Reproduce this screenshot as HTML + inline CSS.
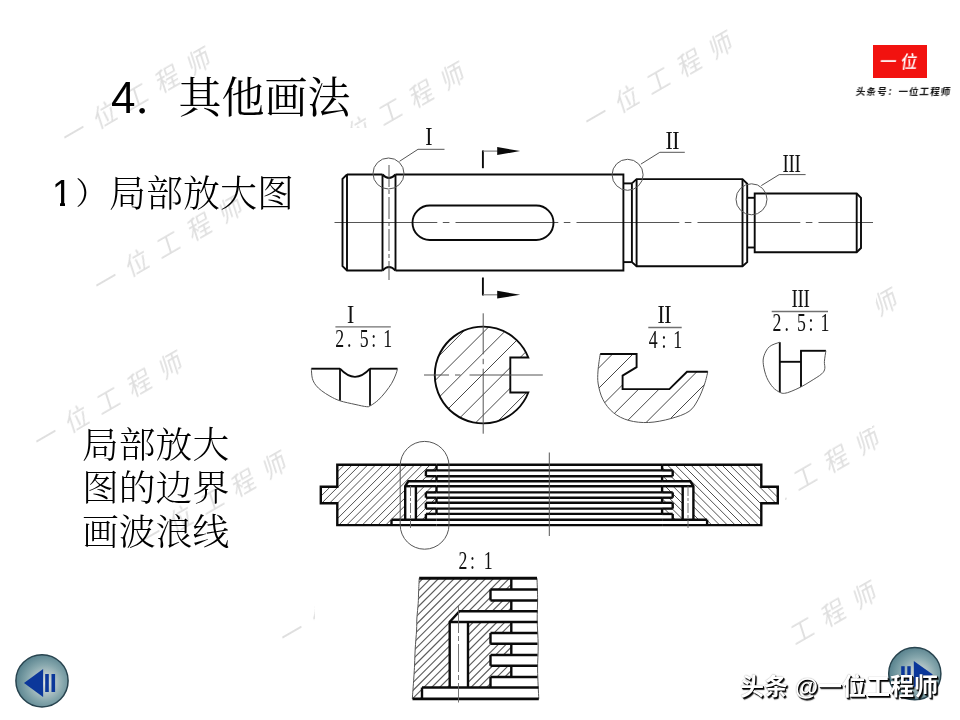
<!DOCTYPE html>
<html lang="zh-CN">
<head>
<meta charset="utf-8">
<title>4.其他画法 — 局部放大图</title>
<style>
html,body{margin:0;padding:0;background:#fff;}
body{width:960px;height:720px;position:relative;overflow:hidden;
  font-family:"Liberation Sans","Noto Serif CJK SC",serif;color:#000;}
.t{position:absolute;white-space:nowrap;line-height:1;will-change:transform;}
svg{will-change:transform;}
.cjk{font-family:"Liberation Sans","Noto Serif CJK SC",serif;font-weight:300;}
.cjk span{font-weight:400;}
.wm{position:absolute;white-space:nowrap;line-height:1;color:#dfdfdf;font-size:24px;letter-spacing:12px;
  font-family:"Liberation Sans","Noto Sans CJK SC",sans-serif;font-weight:400;transform-origin:0 100%;
  transform:rotate(-30deg) skewX(-12deg);will-change:transform;}
</style>
</head>
<body>
<div class="wm" style="left:68.3px;top:128.4px">一位工程师</div><div class="wm" style="left:100.3px;top:275.9px">一位工程师</div><div class="wm" style="left:39.5px;top:432.4px">一位工程师</div><div class="wm" style="left:143.6px;top:531.8px">一位工程师</div><div class="wm" style="left:286.1px;top:627.9px">一位工程师</div><div class="wm" style="left:321.8px;top:143.4px">一位工程师</div><div class="wm" style="left:590.3px;top:111.9px">一位工程师</div><div class="wm" style="left:755.4px;top:369.4px">一位工程师</div><div class="wm" style="left:736.8px;top:508.4px">一位工程师</div><div class="wm" style="left:733.8px;top:662.4px">一位工程师</div>
<div style="position:absolute;left:300px;top:128px;width:576px;height:174px;background:#fff"></div><div style="position:absolute;left:300px;top:300px;width:572px;height:128px;background:#fff"></div><div style="position:absolute;left:315px;top:438px;width:470px;height:278px;background:#fff"></div>
<div class="t cjk" id="title" style="left:111px;top:76.4px;font-size:43px;font-weight:400;"><span style="font-size:44px">4</span>．其他画法</div>
<div class="t cjk" id="sub" style="left:52px;top:175.6px;font-size:37px;"><span style="font-size:36px;position:relative;top:-1px">1</span><span style="display:inline-block;width:37px;font-size:31px;position:relative;left:3.5px;top:-3px">）</span>局部放大图</div>
<div style="position:absolute;left:53px;top:201.6px;width:7.4px;height:5px;background:#fff"></div><div style="position:absolute;left:65.3px;top:201.6px;width:7px;height:5px;background:#fff"></div>
<div class="t cjk" id="note" style="left:82px;top:424.2px;font-size:36.8px;line-height:43.3px;white-space:normal;width:160px;">局部放大<br>图的边界<br>画波浪线</div>
<svg width="960" height="720" viewBox="0 0 960 720" style="position:absolute;left:0;top:0">
<defs><clipPath id="c1"><path d="M528.3,357.5 A48.4,48.4 0 1 0 528.3,392.5 L510.3,392.5 L510.3,357.5 Z"/></clipPath><clipPath id="c2"><path d="M600.2,354.0 C599.8,356.8 598.3,366.0 598.0,371.0 C597.7,376.0 597.4,379.2 598.2,384.0 C599.0,388.8 600.5,394.9 603.0,399.7 C605.5,404.5 609.1,409.2 613.4,412.7 C617.7,416.2 623.1,418.9 629.0,420.5 C634.9,422.1 641.6,422.8 648.6,422.5 C655.6,422.2 664.0,420.5 670.7,418.6 C677.4,416.8 684.5,414.5 689.0,411.4 C693.5,408.2 695.4,404.3 698.0,399.7 C700.6,395.1 703.0,388.7 704.6,384.0 C706.2,379.3 707.3,373.8 707.8,371.7 L687,371.7 L669.4,389.1 L622.6,389.1 L622.6,375.6 L636.6,367.1 L636.6,354.0 L600.2,354.0 Z"/></clipPath><clipPath id="c3"><path d="M337.3,464.8 L436.5,464.8 L436.5,470.4 L425.9,470.4 L425.9,476.2 L436.5,476.2 L436.5,481.3 L408.3,481.3 L405.2,486.2 L405.2,519.7 L391.5,519.7 L391.5,525.1 L337.3,525.1 L337.3,503.2 L320.8,503.2 L320.8,486.7 L337.3,486.7 Z M415.9,486.2 L436.5,486.2 L436.5,492.4 L425.9,492.4 L425.9,497.7 L436.5,497.7 L436.5,502.8 L425.9,502.8 L425.9,508.6 L436.5,508.6 L436.5,513.9 L425.9,513.9 L425.9,519.7 L415.9,519.7 Z"/></clipPath><clipPath id="c4"><path d="M761.3,464.8 L662.1,464.8 L662.1,470.4 L672.7,470.4 L672.7,476.2 L662.1,476.2 L662.1,481.3 L690.3,481.3 L693.4,486.2 L693.4,519.7 L707.1,519.7 L707.1,525.1 L761.3,525.1 L761.3,503.2 L777.8,503.2 L777.8,486.7 L761.3,486.7 Z M682.7,486.2 L662.1,486.2 L662.1,492.4 L672.7,492.4 L672.7,497.7 L662.1,497.7 L662.1,502.8 L672.7,502.8 L672.7,508.6 L662.1,508.6 L662.1,513.9 L672.7,513.9 L672.7,519.7 L682.7,519.7 Z"/></clipPath><clipPath id="c5"><path d="M419.2,578.3 L511.3,578.3 L511.3,589.5 L490.5,589.5 L490.5,600.5 L511.3,600.5 L511.3,611.3 L459.5,611.3 L449.7,622.0 L449.7,687.5 L422.0,687.5 L422.0,698.8 L412.3,698.8 C412.6,695.3 413.4,683.8 413.8,678.0 C414.2,672.2 414.4,668.8 414.6,664.0 C414.8,659.2 414.9,654.7 415.2,649.0 C415.5,643.3 416.3,635.2 416.6,630.0 C416.9,624.8 416.6,622.5 416.9,618.0 C417.2,613.5 417.9,607.6 418.2,603.3 C418.5,599.0 418.4,596.2 418.6,592.0 C418.8,587.8 419.1,580.6 419.2,578.3 Z M468.0,622.0 L511.3,622.0 L511.3,633.0 L490.5,633.0 L490.5,643.8 L511.3,643.8 L511.3,655.0 L490.5,655.0 L490.5,665.8 L511.3,665.8 L511.3,677.0 L490.5,677.0 L490.5,687.5 L468.0,687.5 Z"/></clipPath><radialGradient id="btn" cx="56%" cy="54%" r="54%"><stop offset="0" stop-color="#dfe5e3"/><stop offset="0.3" stop-color="#bccacb"/><stop offset="0.65" stop-color="#86a7ad"/><stop offset="1" stop-color="#5d8691"/></radialGradient></defs>
<line x1="334.5" y1="222.5" x2="873.0" y2="222.5" stroke="#555" stroke-width="1.0" stroke-dasharray="102.8 5.5 6.6 6.1"/>
<path d="M347.0,174.5 L342.5,178.8 L342.5,266.2 L347.0,270.5 L382.5,270.5" fill="none" stroke="#0a0a0a" stroke-width="1.9" />
<path d="M347.0,174.5 L382.5,174.5" fill="none" stroke="#0a0a0a" stroke-width="1.9" />
<line x1="347.0" y1="174.5" x2="347.0" y2="270.5" stroke="#0a0a0a" stroke-width="1.9" />
<line x1="382.5" y1="174.5" x2="382.5" y2="270.5" stroke="#0a0a0a" stroke-width="1.9" />
<line x1="395.5" y1="174.5" x2="395.5" y2="270.5" stroke="#0a0a0a" stroke-width="1.9" />
<path d="M382.5,174.5 Q389,181.5 395.5,174.5" fill="none" stroke="#0a0a0a" stroke-width="1.9"/>
<path d="M382.5,270.5 Q389,263.5 395.5,270.5" fill="none" stroke="#0a0a0a" stroke-width="1.9"/>
<line x1="389.0" y1="165.0" x2="389.0" y2="280.0" stroke="#555" stroke-width="1.0" stroke-dasharray="22 3 4 3"/>
<path d="M395.5,174.5 L623.4,174.5 L623.4,270.5 L395.5,270.5" fill="none" stroke="#0a0a0a" stroke-width="1.9" />
<rect x="412.5" y="205.5" width="141" height="34.5" rx="17.25" fill="none" stroke="#0a0a0a" stroke-width="1.9"/>
<path d="M623.4,183.4 L631.9,183.4" fill="none" stroke="#0a0a0a" stroke-width="1.9" />
<path d="M623.4,262.1 L631.9,262.1" fill="none" stroke="#0a0a0a" stroke-width="1.9" />
<line x1="631.9" y1="183.4" x2="631.9" y2="262.1" stroke="#0a0a0a" stroke-width="1.9" />
<path d="M631.9,183.4 L636.6,179.1 L742.5,179.1 L747.2,183.7 L747.2,262.1 L742.5,266.3 L636.6,266.3 L631.9,262.1" fill="none" stroke="#0a0a0a" stroke-width="1.9" />
<line x1="636.6" y1="179.1" x2="636.6" y2="266.3" stroke="#0a0a0a" stroke-width="1.9" />
<line x1="742.5" y1="179.1" x2="742.5" y2="266.3" stroke="#0a0a0a" stroke-width="1.9" />
<path d="M747.2,197.8 L754.7,197.8" fill="none" stroke="#0a0a0a" stroke-width="1.9" />
<path d="M747.2,247.5 L754.7,247.5" fill="none" stroke="#0a0a0a" stroke-width="1.9" />
<path d="M754.7,193.5 L856.7,193.5 L861.0,197.8 L861.0,248.0 L856.7,252.2 L754.7,252.2 Z" fill="none" stroke="#0a0a0a" stroke-width="1.9" />
<line x1="856.7" y1="193.5" x2="856.7" y2="252.2" stroke="#0a0a0a" stroke-width="1.9" />
<circle cx="388.5" cy="173.5" r="15.5" fill="none" stroke="#555" stroke-width="1.0"/>
<circle cx="627.6" cy="174.8" r="15.5" fill="none" stroke="#555" stroke-width="1.0"/>
<circle cx="751.5" cy="199.3" r="15.5" fill="none" stroke="#555" stroke-width="1.0"/>
<path d="M399.5,161.3 L418.0,149.3 L444.5,149.3" fill="none" stroke="#555" stroke-width="1.0" />
<path d="M640.9,164.1 L659.8,152.3 L684.8,152.3" fill="none" stroke="#555" stroke-width="1.0" />
<path d="M761.3,185.6 L779.2,174.6 L805.6,174.6" fill="none" stroke="#555" stroke-width="1.0" />
<line x1="482.9" y1="150.4" x2="482.9" y2="168.2" stroke="#0a0a0a" stroke-width="1.9" />
<line x1="482.9" y1="151.1" x2="498.0" y2="151.1" stroke="#777" stroke-width="1.1" />
<path d="M497.2,147 L520.2,151.1 L497.2,155 Z" fill="#0a0a0a"/>
<line x1="482.9" y1="277.5" x2="482.9" y2="295.5" stroke="#0a0a0a" stroke-width="1.9" />
<line x1="482.9" y1="294.8" x2="498.0" y2="294.8" stroke="#777" stroke-width="1.1" />
<path d="M497.2,290.8 L520.2,294.8 L497.2,298.6 Z" fill="#0a0a0a"/>
<path d="M311.3,368.7 L340.0,368.7" fill="none" stroke="#0a0a0a" stroke-width="1.9" />
<path d="M370.0,368.7 L397.5,368.7" fill="none" stroke="#0a0a0a" stroke-width="1.9" />
<path d="M340,368.7 Q355,385 370,368.7" fill="none" stroke="#0a0a0a" stroke-width="1.9"/>
<line x1="340.0" y1="368.7" x2="340.0" y2="400.8" stroke="#0a0a0a" stroke-width="1.8" />
<line x1="370.0" y1="368.7" x2="370.0" y2="405.8" stroke="#0a0a0a" stroke-width="1.8" />
<path d="M311.3,368.7 C311.5,370.3 311.6,375.6 312.3,378.3 C313.1,381.1 314.2,383.1 315.8,385.2 C317.4,387.3 319.3,389.0 321.7,390.8 C324.1,392.6 326.9,394.5 330.0,396.2 C333.1,397.9 335.8,399.4 340.0,400.8 C344.2,402.2 350.6,403.4 355.0,404.4 C359.4,405.4 364.1,406.5 366.7,406.7 C369.3,406.9 368.7,406.7 370.6,405.6 C372.5,404.5 375.8,402.3 378.3,400.0 C380.8,397.7 383.3,394.8 385.5,392.0 C387.7,389.2 390.0,386.1 391.7,383.3 C393.4,380.5 394.6,377.4 395.6,375.0 C396.6,372.6 397.2,369.8 397.5,368.7" fill="none" stroke="#555" stroke-width="1.0"/>
<g clip-path="url(#c1)" stroke="#333" stroke-width="0.9" fill="none"><path d="M304.8,428.0 L410.8,322.0"/><path d="M325.5,428.0 L431.5,322.0"/><path d="M346.2,428.0 L452.2,322.0"/><path d="M366.9,428.0 L472.9,322.0"/><path d="M387.6,428.0 L493.6,322.0"/><path d="M408.3,428.0 L514.3,322.0"/><path d="M429.0,428.0 L535.0,322.0"/><path d="M449.7,428.0 L555.7,322.0"/><path d="M470.4,428.0 L576.4,322.0"/><path d="M491.1,428.0 L597.1,322.0"/><path d="M511.8,428.0 L617.8,322.0"/><path d="M532.5,428.0 L638.5,322.0"/><path d="M553.2,428.0 L659.2,322.0"/></g>
<path d="M528.3,357.5 A48.4,48.4 0 1 0 528.3,392.5 L510.3,392.5 L510.3,357.5 Z" fill="none" stroke="#0a0a0a" stroke-width="1.9"/>
<line x1="424.0" y1="375.0" x2="542.8" y2="375.0" stroke="#555" stroke-width="1.0" stroke-dasharray="25 6 5.5 9 80 0"/>
<line x1="483.2" y1="313.3" x2="483.2" y2="433.7" stroke="#555" stroke-width="1.0" stroke-dasharray="41 4.5 5.4 4.5 70 0"/>
<g clip-path="url(#c2)" stroke="#333" stroke-width="0.9" fill="none"><path d="M500.8,425.0 L575.8,350.0"/><path d="M521.2,425.0 L596.2,350.0"/><path d="M541.6,425.0 L616.6,350.0"/><path d="M562.0,425.0 L637.0,350.0"/><path d="M582.4,425.0 L657.4,350.0"/><path d="M602.8,425.0 L677.8,350.0"/><path d="M623.2,425.0 L698.2,350.0"/><path d="M643.6,425.0 L718.6,350.0"/><path d="M664.0,425.0 L739.0,350.0"/><path d="M684.4,425.0 L759.4,350.0"/><path d="M704.8,425.0 L779.8,350.0"/><path d="M725.2,425.0 L800.2,350.0"/></g>
<path d="M600.2,354.0 C599.8,356.8 598.3,366.0 598.0,371.0 C597.7,376.0 597.4,379.2 598.2,384.0 C599.0,388.8 600.5,394.9 603.0,399.7 C605.5,404.5 609.1,409.2 613.4,412.7 C617.7,416.2 623.1,418.9 629.0,420.5 C634.9,422.1 641.6,422.8 648.6,422.5 C655.6,422.2 664.0,420.5 670.7,418.6 C677.4,416.8 684.5,414.5 689.0,411.4 C693.5,408.2 695.4,404.3 698.0,399.7 C700.6,395.1 703.0,388.7 704.6,384.0 C706.2,379.3 707.3,373.8 707.8,371.7" fill="none" stroke="#555" stroke-width="1.0"/>
<path d="M600.2,354.0 L636.6,354.0 L636.6,367.1 L622.6,375.6 L622.6,389.1 L669.4,389.1 L687.0,371.7 L707.8,371.7" fill="none" stroke="#0a0a0a" stroke-width="1.9" />
<line x1="779.8" y1="342.2" x2="779.8" y2="392.3" stroke="#0a0a0a" stroke-width="1.9" />
<line x1="779.8" y1="361.8" x2="801.0" y2="361.8" stroke="#0a0a0a" stroke-width="1.9" />
<line x1="801.0" y1="350.8" x2="801.0" y2="386.9" stroke="#0a0a0a" stroke-width="1.9" />
<line x1="800.1" y1="350.8" x2="825.9" y2="350.8" stroke="#0a0a0a" stroke-width="1.9" />
<path d="M779.8,342.2 C778.1,342.9 772.0,344.4 769.4,346.7 C766.8,349.0 765.0,352.8 764.0,355.8 C763.0,358.8 762.9,361.2 763.4,364.8 C763.9,368.4 765.1,373.6 766.7,377.4 C768.3,381.2 770.8,384.9 773.0,387.4 C775.2,389.9 777.9,391.3 779.8,392.3 C781.7,393.3 782.6,393.5 784.5,393.3 C786.4,393.1 788.4,392.5 791.1,391.4 C793.9,390.3 797.7,388.6 801.0,386.9 C804.3,385.2 807.5,383.2 811.0,381.0 C814.5,378.8 819.5,375.9 821.8,373.8 C824.1,371.7 824.4,370.6 824.8,368.5 C825.2,366.4 824.2,364.4 824.4,361.5 C824.6,358.6 825.6,352.6 825.9,350.8" fill="none" stroke="#555" stroke-width="1.0"/>
<g clip-path="url(#c3)" stroke="#3c3c3c" stroke-width="0.9" fill="none"><path d="M250.1,528.0 L316.1,462.0"/><path d="M257.9,528.0 L323.9,462.0"/><path d="M265.7,528.0 L331.7,462.0"/><path d="M273.5,528.0 L339.5,462.0"/><path d="M281.3,528.0 L347.3,462.0"/><path d="M289.1,528.0 L355.1,462.0"/><path d="M296.9,528.0 L362.9,462.0"/><path d="M304.7,528.0 L370.7,462.0"/><path d="M312.5,528.0 L378.5,462.0"/><path d="M320.3,528.0 L386.3,462.0"/><path d="M328.1,528.0 L394.1,462.0"/><path d="M335.9,528.0 L401.9,462.0"/><path d="M343.7,528.0 L409.7,462.0"/><path d="M351.5,528.0 L417.5,462.0"/><path d="M359.3,528.0 L425.3,462.0"/><path d="M367.1,528.0 L433.1,462.0"/><path d="M374.9,528.0 L440.9,462.0"/><path d="M382.7,528.0 L448.7,462.0"/><path d="M390.5,528.0 L456.5,462.0"/><path d="M398.3,528.0 L464.3,462.0"/><path d="M406.1,528.0 L472.1,462.0"/><path d="M413.9,528.0 L479.9,462.0"/><path d="M421.7,528.0 L487.7,462.0"/><path d="M429.5,528.0 L495.5,462.0"/><path d="M437.3,528.0 L503.3,462.0"/><path d="M445.1,528.0 L511.1,462.0"/></g>
<g clip-path="url(#c4)" stroke="#3c3c3c" stroke-width="0.9" fill="none"><path d="M586.4,462.0 L652.4,528.0"/><path d="M594.2,462.0 L660.2,528.0"/><path d="M602.0,462.0 L668.0,528.0"/><path d="M609.8,462.0 L675.8,528.0"/><path d="M617.6,462.0 L683.6,528.0"/><path d="M625.4,462.0 L691.4,528.0"/><path d="M633.2,462.0 L699.2,528.0"/><path d="M641.0,462.0 L707.0,528.0"/><path d="M648.8,462.0 L714.8,528.0"/><path d="M656.6,462.0 L722.6,528.0"/><path d="M664.4,462.0 L730.4,528.0"/><path d="M672.2,462.0 L738.2,528.0"/><path d="M680.0,462.0 L746.0,528.0"/><path d="M687.8,462.0 L753.8,528.0"/><path d="M695.6,462.0 L761.6,528.0"/><path d="M703.4,462.0 L769.4,528.0"/><path d="M711.2,462.0 L777.2,528.0"/><path d="M719.0,462.0 L785.0,528.0"/><path d="M726.8,462.0 L792.8,528.0"/><path d="M734.6,462.0 L800.6,528.0"/><path d="M742.4,462.0 L808.4,528.0"/><path d="M750.2,462.0 L816.2,528.0"/><path d="M758.0,462.0 L824.0,528.0"/><path d="M765.8,462.0 L831.8,528.0"/><path d="M773.6,462.0 L839.6,528.0"/><path d="M781.4,462.0 L847.4,528.0"/></g>
<path d="M436.5,464.8 L337.3,464.8 L337.3,486.7 L320.8,486.7 L320.8,503.2 L337.3,503.2 L337.3,525.1 L436.5,525.1" fill="none" stroke="#0a0a0a" stroke-width="2.4" />
<path d="M436.5,464.8 L436.5,470.4" fill="none" stroke="#0a0a0a" stroke-width="2.4" />
<path d="M436.5,476.2 L436.5,481.3" fill="none" stroke="#0a0a0a" stroke-width="2.4" />
<path d="M436.5,486.2 L436.5,492.4" fill="none" stroke="#0a0a0a" stroke-width="2.4" />
<path d="M436.5,497.7 L436.5,502.8" fill="none" stroke="#0a0a0a" stroke-width="2.4" />
<path d="M436.5,508.6 L436.5,513.9" fill="none" stroke="#0a0a0a" stroke-width="2.4" />
<path d="M425.9,470.4 L425.9,476.2" fill="none" stroke="#0a0a0a" stroke-width="2.4" />
<path d="M425.9,492.4 L425.9,497.7" fill="none" stroke="#0a0a0a" stroke-width="2.4" />
<path d="M425.9,502.8 L425.9,508.6" fill="none" stroke="#0a0a0a" stroke-width="2.4" />
<path d="M425.9,513.9 L425.9,519.7" fill="none" stroke="#0a0a0a" stroke-width="2.4" />
<path d="M436.5,481.3 L408.3,481.3 L405.2,486.2 L405.2,519.7" fill="none" stroke="#0a0a0a" stroke-width="2.4" />
<path d="M415.9,486.2 L415.9,519.7" fill="none" stroke="#0a0a0a" stroke-width="2.4" />
<path d="M391.5,519.7 L391.5,525.1" fill="none" stroke="#0a0a0a" stroke-width="2.4" />
<path d="M425.9,470.4 L436.5,470.4" fill="none" stroke="#0a0a0a" stroke-width="2.4" />
<path d="M425.9,476.2 L436.5,476.2" fill="none" stroke="#0a0a0a" stroke-width="2.4" />
<path d="M405.2,486.2 L436.5,486.2" fill="none" stroke="#0a0a0a" stroke-width="2.4" />
<path d="M425.9,492.4 L436.5,492.4" fill="none" stroke="#0a0a0a" stroke-width="2.4" />
<path d="M425.9,497.7 L436.5,497.7" fill="none" stroke="#0a0a0a" stroke-width="2.4" />
<path d="M425.9,502.8 L436.5,502.8" fill="none" stroke="#0a0a0a" stroke-width="2.4" />
<path d="M425.9,508.6 L436.5,508.6" fill="none" stroke="#0a0a0a" stroke-width="2.4" />
<path d="M425.9,513.9 L436.5,513.9" fill="none" stroke="#0a0a0a" stroke-width="2.4" />
<path d="M391.5,519.7 L436.5,519.7" fill="none" stroke="#0a0a0a" stroke-width="2.4" />
<line x1="410.5" y1="486.0" x2="410.5" y2="528.0" stroke="#666" stroke-width="0.9" stroke-dasharray="10 2 3 2"/>
<path d="M662.1,464.8 L761.3,464.8 L761.3,486.7 L777.8,486.7 L777.8,503.2 L761.3,503.2 L761.3,525.1 L662.1,525.1" fill="none" stroke="#0a0a0a" stroke-width="2.4" />
<path d="M662.1,464.8 L662.1,470.4" fill="none" stroke="#0a0a0a" stroke-width="2.4" />
<path d="M662.1,476.2 L662.1,481.3" fill="none" stroke="#0a0a0a" stroke-width="2.4" />
<path d="M662.1,486.2 L662.1,492.4" fill="none" stroke="#0a0a0a" stroke-width="2.4" />
<path d="M662.1,497.7 L662.1,502.8" fill="none" stroke="#0a0a0a" stroke-width="2.4" />
<path d="M662.1,508.6 L662.1,513.9" fill="none" stroke="#0a0a0a" stroke-width="2.4" />
<path d="M672.7,470.4 L672.7,476.2" fill="none" stroke="#0a0a0a" stroke-width="2.4" />
<path d="M672.7,492.4 L672.7,497.7" fill="none" stroke="#0a0a0a" stroke-width="2.4" />
<path d="M672.7,502.8 L672.7,508.6" fill="none" stroke="#0a0a0a" stroke-width="2.4" />
<path d="M672.7,513.9 L672.7,519.7" fill="none" stroke="#0a0a0a" stroke-width="2.4" />
<path d="M662.1,481.3 L690.3,481.3 L693.4,486.2 L693.4,519.7" fill="none" stroke="#0a0a0a" stroke-width="2.4" />
<path d="M682.7,486.2 L682.7,519.7" fill="none" stroke="#0a0a0a" stroke-width="2.4" />
<path d="M707.1,519.7 L707.1,525.1" fill="none" stroke="#0a0a0a" stroke-width="2.4" />
<path d="M672.7,470.4 L662.1,470.4" fill="none" stroke="#0a0a0a" stroke-width="2.4" />
<path d="M672.7,476.2 L662.1,476.2" fill="none" stroke="#0a0a0a" stroke-width="2.4" />
<path d="M693.4,486.2 L662.1,486.2" fill="none" stroke="#0a0a0a" stroke-width="2.4" />
<path d="M672.7,492.4 L662.1,492.4" fill="none" stroke="#0a0a0a" stroke-width="2.4" />
<path d="M672.7,497.7 L662.1,497.7" fill="none" stroke="#0a0a0a" stroke-width="2.4" />
<path d="M672.7,502.8 L662.1,502.8" fill="none" stroke="#0a0a0a" stroke-width="2.4" />
<path d="M672.7,508.6 L662.1,508.6" fill="none" stroke="#0a0a0a" stroke-width="2.4" />
<path d="M672.7,513.9 L662.1,513.9" fill="none" stroke="#0a0a0a" stroke-width="2.4" />
<path d="M707.1,519.7 L662.1,519.7" fill="none" stroke="#0a0a0a" stroke-width="2.4" />
<line x1="688.0" y1="486.0" x2="688.0" y2="528.0" stroke="#666" stroke-width="0.9" stroke-dasharray="10 2 3 2"/>
<line x1="436.5" y1="464.8" x2="662.1" y2="464.8" stroke="#0a0a0a" stroke-width="2.4" />
<line x1="436.5" y1="470.4" x2="662.1" y2="470.4" stroke="#0a0a0a" stroke-width="2.4" />
<line x1="436.5" y1="476.2" x2="662.1" y2="476.2" stroke="#0a0a0a" stroke-width="2.4" />
<line x1="436.5" y1="481.3" x2="662.1" y2="481.3" stroke="#0a0a0a" stroke-width="2.4" />
<line x1="436.5" y1="486.2" x2="662.1" y2="486.2" stroke="#0a0a0a" stroke-width="2.4" />
<line x1="436.5" y1="492.4" x2="662.1" y2="492.4" stroke="#0a0a0a" stroke-width="2.4" />
<line x1="436.5" y1="497.7" x2="662.1" y2="497.7" stroke="#0a0a0a" stroke-width="2.4" />
<line x1="436.5" y1="502.8" x2="662.1" y2="502.8" stroke="#0a0a0a" stroke-width="2.4" />
<line x1="436.5" y1="508.6" x2="662.1" y2="508.6" stroke="#0a0a0a" stroke-width="2.4" />
<line x1="436.5" y1="513.9" x2="662.1" y2="513.9" stroke="#0a0a0a" stroke-width="2.4" />
<line x1="436.5" y1="519.7" x2="662.1" y2="519.7" stroke="#0a0a0a" stroke-width="2.4" />
<line x1="436.5" y1="525.1" x2="662.1" y2="525.1" stroke="#0a0a0a" stroke-width="2.4" />
<line x1="549.3" y1="452.5" x2="549.3" y2="536.0" stroke="#555" stroke-width="1.0" />
<rect x="400.2" y="441.4" width="48.8" height="107.8" rx="24.4" fill="none" stroke="#555" stroke-width="1.0"/>
<g clip-path="url(#c5)" stroke="#5a5a5a" stroke-width="1.15" fill="none"><path d="M284.7,701.0 L409.7,576.0"/><path d="M292.5,701.0 L417.5,576.0"/><path d="M300.4,701.0 L425.4,576.0"/><path d="M308.2,701.0 L433.2,576.0"/><path d="M316.1,701.0 L441.1,576.0"/><path d="M323.9,701.0 L448.9,576.0"/><path d="M331.8,701.0 L456.8,576.0"/><path d="M339.6,701.0 L464.6,576.0"/><path d="M347.5,701.0 L472.5,576.0"/><path d="M355.3,701.0 L480.3,576.0"/><path d="M363.2,701.0 L488.2,576.0"/><path d="M371.0,701.0 L496.0,576.0"/><path d="M378.9,701.0 L503.9,576.0"/><path d="M386.7,701.0 L511.7,576.0"/><path d="M394.5,701.0 L519.5,576.0"/><path d="M402.4,701.0 L527.4,576.0"/><path d="M410.2,701.0 L535.2,576.0"/><path d="M418.1,701.0 L543.1,576.0"/><path d="M426.0,701.0 L551.0,576.0"/><path d="M433.8,701.0 L558.8,576.0"/><path d="M441.7,701.0 L566.7,576.0"/><path d="M449.5,701.0 L574.5,576.0"/><path d="M457.4,701.0 L582.4,576.0"/><path d="M465.2,701.0 L590.2,576.0"/><path d="M473.0,701.0 L598.0,576.0"/><path d="M480.9,701.0 L605.9,576.0"/><path d="M488.8,701.0 L613.8,576.0"/><path d="M496.6,701.0 L621.6,576.0"/><path d="M504.5,701.0 L629.5,576.0"/><path d="M512.3,701.0 L637.3,576.0"/><path d="M520.2,701.0 L645.2,576.0"/></g>
<path d="M419.2,578.3 C419.1,580.6 418.8,587.8 418.6,592.0 C418.4,596.2 418.5,599.0 418.2,603.3 C417.9,607.6 417.2,613.5 416.9,618.0 C416.6,622.5 416.9,624.8 416.6,630.0 C416.3,635.2 415.5,643.3 415.2,649.0 C414.9,654.7 414.8,659.2 414.6,664.0 C414.4,668.8 414.2,672.2 413.8,678.0 C413.4,683.8 412.6,695.3 412.3,698.8" fill="none" stroke="#555" stroke-width="1.0"/>
<path d="M537,578.3 C537.1,581.9 537.6,593.0 537.6,600.0 C537.6,607.0 537.1,612.5 537.2,620.0 C537.3,627.5 538.1,636.7 538.2,645.0 C538.3,653.3 537.5,661.0 537.6,670.0 C537.7,679.0 538.6,694.0 538.8,698.8" fill="none" stroke="#555" stroke-width="1.0"/>
<line x1="419.2" y1="578.3" x2="537.0" y2="578.3" stroke="#0a0a0a" stroke-width="2.9" />
<line x1="412.5" y1="698.8" x2="538.8" y2="698.8" stroke="#0a0a0a" stroke-width="2.7" />
<line x1="511.3" y1="578.3" x2="511.3" y2="589.5" stroke="#0a0a0a" stroke-width="2.4" />
<line x1="511.3" y1="600.5" x2="511.3" y2="611.3" stroke="#0a0a0a" stroke-width="2.4" />
<line x1="511.3" y1="622.0" x2="511.3" y2="633.0" stroke="#0a0a0a" stroke-width="2.4" />
<line x1="511.3" y1="643.8" x2="511.3" y2="655.0" stroke="#0a0a0a" stroke-width="2.4" />
<line x1="511.3" y1="665.8" x2="511.3" y2="677.0" stroke="#0a0a0a" stroke-width="2.4" />
<line x1="490.5" y1="589.5" x2="490.5" y2="600.5" stroke="#0a0a0a" stroke-width="2.4" />
<line x1="490.5" y1="633.0" x2="490.5" y2="643.8" stroke="#0a0a0a" stroke-width="2.4" />
<line x1="490.5" y1="655.0" x2="490.5" y2="665.8" stroke="#0a0a0a" stroke-width="2.4" />
<line x1="490.5" y1="677.0" x2="490.5" y2="687.5" stroke="#0a0a0a" stroke-width="2.4" />
<line x1="490.5" y1="589.5" x2="537.5" y2="589.5" stroke="#0a0a0a" stroke-width="2.4" />
<line x1="490.5" y1="600.5" x2="537.5" y2="600.5" stroke="#0a0a0a" stroke-width="2.4" />
<line x1="490.5" y1="633.0" x2="537.5" y2="633.0" stroke="#0a0a0a" stroke-width="2.4" />
<line x1="490.5" y1="643.8" x2="537.5" y2="643.8" stroke="#0a0a0a" stroke-width="2.4" />
<line x1="490.5" y1="655.0" x2="537.5" y2="655.0" stroke="#0a0a0a" stroke-width="2.4" />
<line x1="490.5" y1="665.8" x2="537.5" y2="665.8" stroke="#0a0a0a" stroke-width="2.4" />
<line x1="490.5" y1="677.0" x2="537.5" y2="677.0" stroke="#0a0a0a" stroke-width="2.4" />
<path d="M537.5,611.3 L459.5,611.3 L449.7,622.0 L449.7,687.5" fill="none" stroke="#0a0a0a" stroke-width="2.4" />
<line x1="449.7" y1="622.0" x2="537.5" y2="622.0" stroke="#0a0a0a" stroke-width="2.4" />
<line x1="468.0" y1="622.0" x2="468.0" y2="687.5" stroke="#0a0a0a" stroke-width="2.4" />
<line x1="422.0" y1="687.5" x2="538.5" y2="687.5" stroke="#0a0a0a" stroke-width="2.4" />
<line x1="422.0" y1="687.5" x2="422.0" y2="698.8" stroke="#0a0a0a" stroke-width="2.4" />
<line x1="458.5" y1="605.0" x2="458.5" y2="702.5" stroke="#666" stroke-width="0.9" stroke-dasharray="28 3 5 3"/>
<circle cx="42" cy="680.8" r="26.1" fill="url(#btn)" stroke="#28444f" stroke-width="1.5"/>
<path d="M24,683.1 L43.1,669.1 L43.1,696.9 Z" fill="#0b379a"/>
<rect x="45.2" y="674" width="3.6" height="18" fill="#0b379a"/><rect x="51.5" y="674" width="3.6" height="18" fill="#0b379a"/>
<circle cx="914.8" cy="673.7" r="26.1" fill="url(#btn)" stroke="#28444f" stroke-width="1.5"/>
<path d="M932.8,674.4 L913.8,661 L913.8,687.8 Z" fill="#0b379a"/>
<rect x="901.2" y="666.2" width="3.5" height="17" fill="#0b379a"/><rect x="907.3" y="666.2" width="3.4" height="17" fill="#0b379a"/>
<g font-family="'Liberation Serif', serif" fill="#111">
<text transform="scale(0.88,1)" x="487.27" y="144.6" font-size="24.7" text-anchor="middle">I</text>
<text transform="scale(0.88,1)" x="760.51 768.12" y="149.2" font-size="24.7" text-anchor="middle">II</text>
<text transform="scale(0.77,1)" x="1020.39 1028.18 1035.97" y="172.0" font-size="24.7" text-anchor="middle">III</text>
<text transform="scale(0.88,1)" x="398.41" y="323.5" font-size="24.7" text-anchor="middle">I</text>
<text transform="scale(0.72,1)" x="471.67 485.14 505.69 518.89 538.33" y="346.8" font-size="24.7" text-anchor="middle">2.5:1</text>
<text transform="scale(0.88,1)" x="751.31 758.92" y="323.4" font-size="24.7" text-anchor="middle">II</text>
<text transform="scale(0.72,1)" x="907.22 922.22 941.39" y="347.9" font-size="24.7" text-anchor="middle">4:1</text>
<text transform="scale(0.77,1)" x="1031.95 1039.74 1047.53" y="306.9" font-size="24.7" text-anchor="middle">III</text>
<text transform="scale(0.72,1)" x="1079.17 1092.64 1113.19 1126.39 1145.83" y="330.7" font-size="24.7" text-anchor="middle">2.5:1</text>
<text transform="scale(0.72,1)" x="643.06 656.25 678.06" y="568.8" font-size="24.7" text-anchor="middle">2:1</text>
</g>
<line x1="335.4" y1="326.8" x2="390.8" y2="326.8" stroke="#707070" stroke-width="1.3" />
<line x1="648.3" y1="327.5" x2="681.7" y2="327.5" stroke="#707070" stroke-width="1.3" />
<line x1="771.7" y1="311.5" x2="828.0" y2="311.5" stroke="#707070" stroke-width="1.3" />
</svg>
<div style="position:absolute;left:873px;top:45px;width:54px;height:33px;background:#f2120f;"></div><div class="t" style="left:874px;top:54px;width:54px;text-align:center;color:#fff;font-size:16.5px;letter-spacing:4.5px;font-family:'Liberation Sans','Noto Sans CJK SC',sans-serif;font-weight:500;transform:skewX(-8deg);">一位</div><div class="t" style="left:856px;top:86.6px;font-size:9.5px;letter-spacing:1.1px;color:#111;font-family:'Liberation Sans','Noto Sans CJK SC',sans-serif;font-weight:700;transform:skewX(-8deg);">头条号：一位工程师</div>
<div class="t" id="foot" style="left:740px;top:675px;font-size:24px;color:#fff;font-family:'Liberation Sans','Noto Sans CJK SC',sans-serif;font-weight:700;text-shadow:1px 1px 0 #000,1.6px 1.6px 1px rgba(0,0,0,.85),0 0 1px rgba(0,0,0,.5);">头条 @一位工程师</div>
</body>
</html>
